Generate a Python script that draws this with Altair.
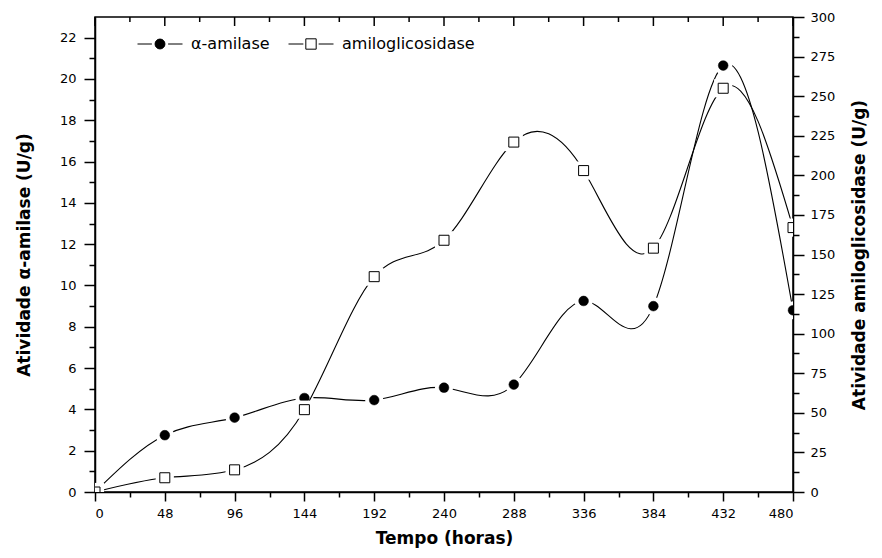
import altair as alt
import pandas as pd

# ---- data ----
horas = [0, 48, 96, 144, 192, 240, 288, 336, 384, 432, 480]
alfa_amilase = [0.0, 2.75, 3.6, 4.55, 4.45, 5.05, 5.2, 9.25, 9.0, 20.65, 8.8]
amiloglicosidase = [0, 9, 14, 52, 136, 159, 221, 203, 154, 255, 167]
series = ["α-amilase", "amiloglicosidase"]

x_tick_values = list(range(0, 481, 24))
x_major = list(range(0, 481, 48))
x_minor = list(range(24, 481, 48))
yl_tick_values = list(range(0, 23))
yr_tick_values = [i * 12.5 for i in range(0, 25)]

FONT = "DejaVu Sans"

dfA = pd.DataFrame({"hora": horas, "valor": alfa_amilase, "serie": series[0]})
dfB = pd.DataFrame({"hora": horas, "valor": amiloglicosidase, "serie": series[1]})
dfL = pd.DataFrame({"serie": series})
df_major = pd.DataFrame({"hora": x_major})
df_minor = pd.DataFrame({"hora": x_minor})

x_enc = alt.X(
    "hora:Q",
    scale=alt.Scale(domain=[0, 480], nice=False, zero=False),
    axis=alt.Axis(
        title="Tempo (horas)",
        values=x_tick_values,
        labelExpr="datum.value % 48 === 0 ? datum.label : ''",
        tickSize={"condition": {"test": "datum.value % 48 === 0", "value": 9}, "value": 5},
        labelPadding=6,
        titlePadding=10,
    ),
)

yA_enc = alt.Y(
    "valor:Q",
    scale=alt.Scale(domain=[0, 23], nice=False),
    axis=alt.Axis(
        orient="left",
        title="Atividade α-amilase (U/g)",
        values=yl_tick_values,
        labelExpr="datum.value % 2 === 0 ? datum.label : ''",
        tickSize={"condition": {"test": "datum.value % 2 === 0", "value": 11}, "value": 6},
        labelPadding=8,
        titlePadding=26,
    ),
)

yB_enc = alt.Y(
    "valor:Q",
    scale=alt.Scale(domain=[0, 300], nice=False),
    axis=alt.Axis(
        orient="right",
        title="Atividade amiloglicosidase (U/g)",
        values=yr_tick_values,
        format="d",
        labelExpr="datum.value % 25 === 0 ? datum.label : ''",
        tickSize={"condition": {"test": "datum.value % 25 === 0", "value": 11}, "value": 6},
        labelPadding=6,
        titlePadding=17,
        titleAngle=270,
        titleBaseline="top",
    ),
)

circle_path = ("M-1,0H-0.36M0.36,0H1"
               "M0.22,0A0.22,0.22,0,1,1,-0.22,0A0.22,0.22,0,1,1,0.22,0Z")
square_path = "M-1,0H-0.34M0.34,0H1M-0.23,-0.23H0.23V0.23H-0.23Z"

legend = alt.Legend(
    title=None,
    orient="none",
    legendX=42,
    legendY=4,
    direction="horizontal",
    padding=0,
    symbolSize=2025,
    symbolStrokeWidth=1,
    symbolStrokeColor="black",
    labelOffset=8,
    columnPadding=16,
    labelFont=FONT,
    labelFontSize=16,
    labelColor="black",
)

# legend carrier: drawn outside the clipped view, only its legend is visible
legend_layer = alt.Chart(dfL).mark_point(filled=True, strokeWidth=1, opacity=1, clip=True).encode(
    x=alt.value(-1000),
    y=alt.value(-1000),
    shape=alt.Shape("serie:N", scale=alt.Scale(domain=series, range=[circle_path, square_path]), legend=legend),
    fill=alt.Fill("serie:N", scale=alt.Scale(domain=series, range=["black", "white"]), legend=legend),
    stroke=alt.Stroke("serie:N", scale=alt.Scale(domain=series, range=["black", "black"]), legend=legend),
)

lineA = alt.Chart(dfA).mark_line(interpolate="natural", color="black", strokeWidth=1.1, clip=True).encode(x=x_enc, y=yA_enc)
haloA = alt.Chart(dfA).mark_point(shape="circle", filled=True, color="white", size=330, opacity=1, clip=True).encode(x=x_enc, y=yA_enc)
ptsA = alt.Chart(dfA).mark_point(shape="circle", filled=True, fill="black", size=95, stroke="black", strokeWidth=0.5, opacity=1, clip=True).encode(x=x_enc, y=yA_enc)
layerA = alt.layer(lineA, haloA, ptsA)

lineB = alt.Chart(dfB).mark_line(interpolate="natural", color="black", strokeWidth=1.1, clip=True).encode(x=x_enc, y=yB_enc)
haloB = alt.Chart(dfB).mark_point(shape="square", filled=True, color="white", size=330, opacity=1, clip=True).encode(x=x_enc, y=yB_enc)
ptsB = alt.Chart(dfB).mark_point(shape="square", filled=True, fill="white", size=100, stroke="black", strokeWidth=1, opacity=1, clip=True).encode(x=x_enc, y=yB_enc)
layerB = alt.layer(lineB, haloB, ptsB)

top_major = alt.Chart(df_major).mark_rule(color="black", strokeWidth=1.5).encode(
    x=x_enc, y=alt.value(0), y2=alt.value(9))
top_minor = alt.Chart(df_minor).mark_rule(color="black", strokeWidth=1.5).encode(
    x=x_enc, y=alt.value(0), y2=alt.value(5))

chart = (
    alt.layer(layerA, layerB, top_major, top_minor, legend_layer)
    .resolve_scale(y="independent")
    .properties(
        width=698,
        height=475,
        autosize=alt.AutoSizeParams(type="none"),
        padding={"left": 87, "top": 9, "right": 81, "bottom": 57},
        background="white",
    )
    .configure_view(stroke="black", strokeWidth=1.5)
    .configure_axis(
        grid=False,
        domainColor="black",
        domainWidth=1.5,
        tickColor="black",
        tickWidth=1.5,
        labelColor="black",
        labelFont=FONT,
        labelFontSize=13,
        titleColor="black",
        titleFont=FONT,
        titleFontSize=17,
        titleFontWeight="bold",
        zindex=1,
    )
)

chart.save("out.html", embed_options={"renderer": "svg", "actions": False})
